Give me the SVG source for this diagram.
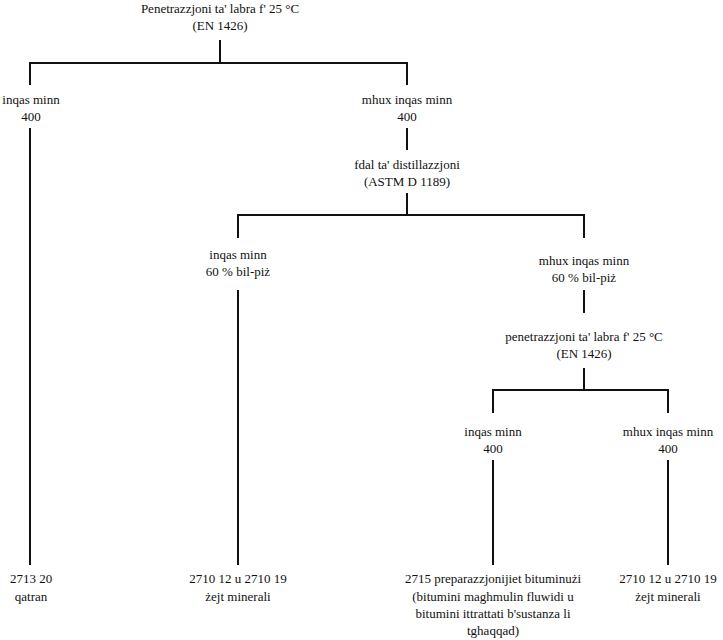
<svg xmlns="http://www.w3.org/2000/svg" width="723" height="640" viewBox="0 0 723 640">
<style>
text{font-family:"Liberation Serif","DejaVu Serif",serif;font-size:13px;fill:#111;text-anchor:middle}
.c{stroke:#111;stroke-width:2;fill:none}
</style>
<rect width="723" height="640" fill="#fff"/>
<g id="connectors">
<path class="c" d="M220,40V63M30,85V63H407V85"/>
<path class="c" d="M30,128V565"/>
<path class="c" d="M407,128V150"/>
<path class="c" d="M407,193V215M238,238V215H584V238"/>
<path class="c" d="M238,290V565"/>
<path class="c" d="M584,290V313"/>
<path class="c" d="M584,368V390M493,413V390H668V413"/>
<path class="c" d="M493,460V565"/>
<path class="c" d="M668,460V565"/>
</g>
<g id="n_root"><text x="220" y="13">Penetrazzjoni ta' labra f' 25 °C</text><text x="220" y="30">(EN 1426)</text></g>
<g id="n_lt400"><text x="31" y="104">inqas minn</text><text x="31" y="121">400</text></g>
<g id="n_ge400"><text x="407" y="104">mhux inqas minn</text><text x="407" y="121">400</text></g>
<g id="n_fdal"><text x="407" y="169">fdal ta' distillazzjoni</text><text x="407" y="186">(ASTM D 1189)</text></g>
<g id="n_lt60"><text x="238" y="259">inqas minn</text><text x="238" y="276">60 % bil-piż</text></g>
<g id="n_ge60"><text x="584" y="265">mhux inqas minn</text><text x="584" y="282">60 % bil-piż</text></g>
<g id="n_pen2"><text x="584" y="341">penetrazzjoni ta' labra f' 25 °C</text><text x="584" y="358">(EN 1426)</text></g>
<g id="n_lt400b"><text x="493" y="436">inqas minn</text><text x="493" y="453">400</text></g>
<g id="n_ge400b"><text x="668" y="436">mhux inqas minn</text><text x="668" y="453">400</text></g>
<g id="n_qatran"><text x="31" y="583">2713 20</text><text x="31" y="601">qatran</text></g>
<g id="n_zejt1"><text x="238" y="583">2710 12 u 2710 19</text><text x="238" y="601">żejt minerali</text></g>
<g id="n_prep"><text x="493" y="583">2715 preparazzjonijiet bituminużi</text><text x="493" y="601">(bitumini maghmulin fluwidi u</text><text x="493" y="618">bitumini ittrattati b'sustanza li</text><text x="493" y="635">tghaqqad)</text></g>
<g id="n_zejt2"><text x="668" y="583">2710 12 u 2710 19</text><text x="668" y="601">żejt minerali</text></g>
</svg>
